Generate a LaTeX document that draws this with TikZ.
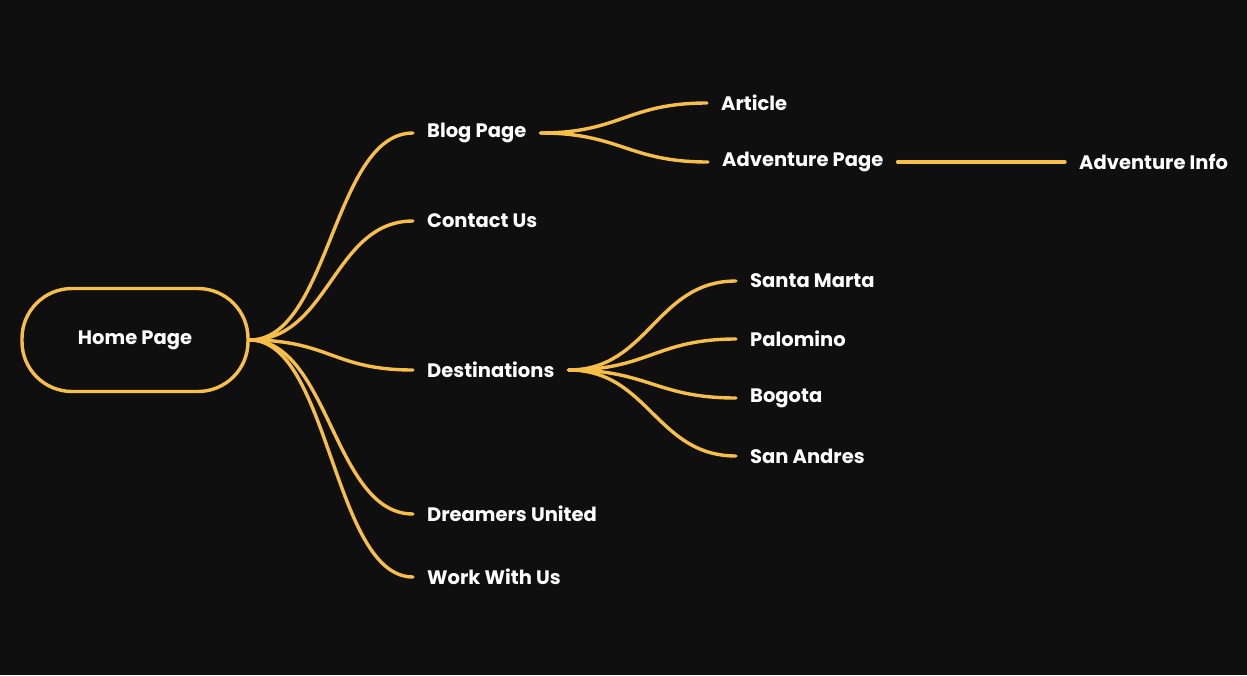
\documentclass[tikz,border=0pt]{standalone}
\usepackage{fontspec}
\setmainfont{Poppins}
\definecolor{bg}{HTML}{0F0F0F}
\definecolor{ln}{HTML}{F8BF48}
\begin{document}
\begin{tikzpicture}[x=1pt,y=-1pt,
  lbl/.style={text=white,font=\fontsize{19.5}{22}\selectfont\bfseries,inner xsep=14pt,inner ysep=2pt,anchor=west},
  con/.style={draw=ln,line width=3.4pt,line cap=round}]
\fill[bg] (0,0) rectangle (1247,675);
\useasboundingbox (0,0) rectangle (1247,675);
\node[draw=ln,line width=3.4pt,rounded corners=50pt,minimum width=226pt,minimum height=103pt,text=white,font=\fontsize{19.5}{22}\selectfont\bfseries] (home) at (135,340) {Home Page};
\node[lbl] (blog) at (413,133) {Blog Page};
\node[lbl] (contact) at (413,221) {Contact Us};
\node[lbl] (dest) at (413,370) {Destinations};
\node[lbl] (dream) at (413,514) {Dreamers United};
\node[lbl] (work) at (413,577) {Work With Us};
\node[lbl] (article) at (707,103) {Article};
\node[lbl] (adv) at (708,162) {Adventure Page};
\node[lbl] (info) at (1065,162) {Adventure Info};
\node[lbl] (sm) at (736,281) {Santa Marta};
\node[lbl] (pal) at (736,339) {Palomino};
\node[lbl] (bog) at (736,398) {Bogota};
\node[lbl] (sa) at (736,456) {San Andres};
\foreach \t in {blog,contact,dest,dream,work}
  \draw[con] (home.east) .. controls +(80,0) and +(-80,0) .. (\t.west);
\foreach \t in {article,adv}
  \draw[con] (blog.east) .. controls +(80,0) and +(-80,0) .. (\t.west);
\foreach \t in {sm,pal,bog,sa}
  \draw[con] (dest.east) .. controls +(80,0) and +(-80,0) .. (\t.west);
\draw[con] (adv.east) -- (info.west);
\end{tikzpicture}
\end{document}
